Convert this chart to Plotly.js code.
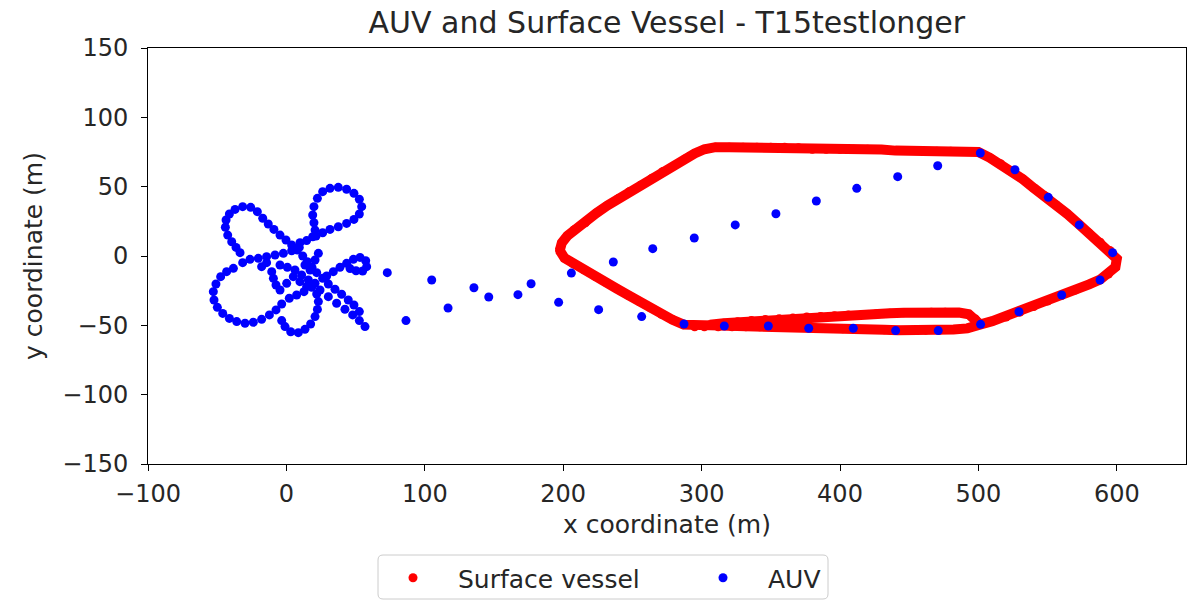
<!DOCTYPE html>
<html>
<head>
<meta charset="utf-8">
<script src="https://cdn.plot.ly/plotly-3.0.1.min.js"></script>
<style>html,body{margin:0;padding:0;background:#fff;}#chart{width:1193px;height:601px;}</style>
</head>
<body>
<div id="chart"></div>
<script>
// Surface vessel: main loop
const vesselX = [197.5,199,203,208,216,224,232,240,248,256,264,272,280,288,295,302,310,320,330,340,350,360,370,380,390,400,410,420,430,440,450,460,470,480,490,500,508,516,524,532,540,548,556,564,572,580,588,595,600,599,594,588,580,570,560,550,540,530,520,510,501,492,482,472,462,452,442,432,422,412,402,392,382,372,362,352,342,332,322,312,302,295,287,279,271,263,255,247,239,231,223,215,207,201,197.5];
const vesselY = [4,9.5,14.5,19,24,31,36.5,41.5,46.5,51,56,61,65,70,74,77,78.5,78.5,78.5,78.5,78.5,78.5,78,77,77,77,77,77,76.8,76,76,75.5,75.5,75.5,75.3,75,71,66.5,61.5,55.5,49,43.5,37,30.5,23.5,16.5,10,4,-2,-8,-13,-17,-20.5,-24.5,-28.5,-32.5,-36.5,-40.5,-44,-47,-49.5,-52.2,-53,-53.5,-53.5,-53.5,-53.5,-53.2,-53,-52.8,-52.5,-52.2,-52,-51.5,-51.5,-51,-51,-51,-51,-51,-51,-51,-49.5,-46,-42,-37.4,-32.8,-28.3,-23.7,-19.1,-14.6,-10,-5.5,-1.5,4];
// Surface vessel: second (inner) pass along the bottom
const vesselX2 = [501,498,493,486,476,466,456,446,436,426,416,406,396,386,376,366,356,346,336,326,316,306];
const vesselY2 = [-49,-45.5,-42,-40.8,-40.5,-40.5,-40.8,-41,-41.3,-41.8,-42.2,-42.6,-43,-43.6,-44,-44.8,-45.3,-45.8,-46.5,-47.5,-48.5,-49.5];

// AUV positions
const auvX = [-33.5,-36.4,-39.5,-42.4,-44.1,-43.6,-41.2,-37.1,-31.6,-25.8,-21.0,-17.1,-13.1,-9.0,-4.6,-0.3,3.8,7.9,11.8,15.1,18.5,21.9,
  26.2,30.3,35.1,39.9,44.7,48.8,52.7,
  24.3,30.3,36.3,42.3,47.9,52.7,56.8,
  9.8,14.6,19.0,20.7,19.9,19.0,19.9,22.4,26.2,31.5,37.5,43.5,48.8,52.7,54.4,52.7,48.8,43.5,37.5,31.5,26.2,21.4,
  9.3,3.8,-2.2,-8.2,-14.3,-20.3,-26.3,-31.6,
  -38.3,-43.2,-47.5,-50.9,-52.8,-52.3,-49.9,-46.0,-41.2,-35.9,-29.9,-23.9,-17.9,-12.3,-7.5,-3.4,
  2.1,7.4,12.7,18.3,
  21.9,23.1,22.4,20.7,17.5,13.4,8.6,3.1,-1.0,-3.4,
  29.1,33.9,38.7,43.5,48.4,53.2,57.3,58.0,55.1,50.3,46.0,
  -10.6,-9.4,-7.5,-4.6,0.7,6.2,11.0,15.9,20.7,9.8,14.6,5.0,0.2,-4.6,17.1,13.4,20.7,23.1,-17.9,-14.3,
  72.9,86.4,105,116.8,135.5,146.2,167.3,176.8,196.7,205.9,225.6,236.2,264.7,294.7,324.3,353.7,382.9,412.1,441.7,470.6,501.4,
  526.4,550.5,572.9,597,587.9,560.2,529.3,501.6,471,440.2,409.6,377.4,348.2,316.4,287.3,256.7];
const auvY = [2.4,6.2,10.3,15.1,20.7,26.0,30.3,33.6,35.6,35.1,32.0,27.2,23.1,19.2,15.1,11.5,7.9,4.3,0,-4.1,-8.2,-12.0,
  -16.1,-20.2,-24.0,-27.6,-31.7,-35.3,-40.1,
  -24.5,-29.3,-34.1,-38.4,-42.5,-46.6,-50.9,
  9.6,11.1,13.9,18.7,24.0,29.6,35.6,41.6,46.4,48.8,49.5,48.1,45.2,40.9,35.6,30.3,26.4,23.5,21.1,19.2,16.8,14.4,
  6.2,3.8,1.9,0.7,-0.5,-1.7,-2.4,-4.8,
  -8.9,-11.3,-14.9,-20.2,-25.7,-31.7,-37.0,-41.4,-45.0,-47.3,-48.5,-47.8,-45.7,-42.5,-38.9,-34.6,
  -30.5,-28.1,-25.7,-22.6,
  -27.4,-32.9,-38.5,-43.7,-49.0,-52.9,-55.3,-54.6,-50.9,-46.6,
  -14.4,-11.3,-8.2,-5.3,-2.4,-1.0,-3.4,-7.7,-10.8,-10.6,-9.1,
  -11.3,-16.1,-20.9,-6.5,-8.2,-10.1,-13.7,-17.3,-19.7,-18.5,-22.1,-14.9,-19.7,-24.5,-10.1,-6.5,-2.9,1.9,-7.7,-4.8,
  -12.0,-46.6,-17.3,-37.5,-22.9,-29.6,-27.9,-20.0,-33.4,-12.3,-38.7,-4.3,5.3,13.0,22.4,30.5,39.7,48.8,57.2,65.1,74.3,
  62.2,42.3,22.4,2.4,-17.3,-28.1,-40.2,-49.3,-53.8,-53.8,-52.1,-52.1,-50.5,-50.5,-49.0,-43.7];

const xTicks = [-100,0,100,200,300,400,500,600];
const yTicks = [-150,-100,-50,0,50,100,150];

const RED = '#ff0000', BLUE = '#0000ff';
const FONT = 'DejaVu Sans, sans-serif';
const TXT = '#262626';

const traces = [
  {x: vesselX, y: vesselY, mode: 'lines', line: {color: RED, width: 10}, showlegend: false, hoverinfo: 'skip'},
  {x: vesselX2, y: vesselY2, mode: 'lines', line: {color: RED, width: 10}, showlegend: false, hoverinfo: 'skip'},
  {x: vesselX.concat(vesselX2), y: vesselY.concat(vesselY2), mode: 'markers', type: 'scatter', name: 'Surface vessel',
   marker: {color: RED, size: 9}, legend: 'legend'},
  {x: auvX, y: auvY, mode: 'markers', type: 'scatter', name: 'AUV', marker: {color: BLUE, size: 9}, legend: 'legend2'}
];

const axisCommon = {
  showgrid: false, zeroline: false, showline: true, mirror: true,
  linecolor: '#000', linewidth: 1, ticks: 'outside', ticklen: 6, tickcolor: '#000', tickwidth: 1,
  tickfont: {family: FONT, size: 24, color: TXT}
};

// plot area in pixels (for the legend frame decoration)
const PL = 148, PT = 48, PW = 1038, PH = 416;
const px2paperX = p => (p - PL) / PW;
const py2paperY = p => (PT + PH - p) / PH;
function roundRect(x0, y0, x1, y1, r) {
  const X = px2paperX, Y = py2paperY;
  return `M${X(x0 + r)},${Y(y0)} L${X(x1 - r)},${Y(y0)} Q${X(x1)},${Y(y0)} ${X(x1)},${Y(y0 + r)} ` +
         `L${X(x1)},${Y(y1 - r)} Q${X(x1)},${Y(y1)} ${X(x1 - r)},${Y(y1)} L${X(x0 + r)},${Y(y1)} ` +
         `Q${X(x0)},${Y(y1)} ${X(x0)},${Y(y1 - r)} L${X(x0)},${Y(y0 + r)} Q${X(x0)},${Y(y0)} ${X(x0 + r)},${Y(y0)} Z`;
}

const legendCommon = {orientation: 'h', xref: 'container', yref: 'container', xanchor: 'left', y: 1 - 578 / 601, yanchor: 'middle',
  borderwidth: 0, bgcolor: 'rgba(0,0,0,0)', itemwidth: 80, font: {family: FONT, size: 25, color: TXT}};

const layout = {
  width: 1193, height: 601,
  margin: {l: PL, r: 1193 - PL - PW, t: PT, b: 601 - PT - PH},
  paper_bgcolor: '#fff', plot_bgcolor: '#fff',
  font: {family: FONT, color: TXT},
  title: {text: 'AUV and Surface Vessel - T15testlonger', font: {family: FONT, size: 30, color: TXT},
          x: 0.559, xanchor: 'center', xref: 'container', y: 0.963, yanchor: 'middle', yref: 'container'},
  xaxis: Object.assign({}, axisCommon, {range: [-100, 650], tickvals: xTicks, ticklabelstandoff: 2,
          title: {text: 'x coordinate (m)', font: {family: FONT, size: 25, color: TXT}, standoff: 8}}),
  yaxis: Object.assign({}, axisCommon, {range: [-150, 150], tickvals: yTicks, ticklabelstandoff: 8,
          title: {text: 'y coordinate (m)', font: {family: FONT, size: 25, color: TXT}, standoff: 12}}),
  showlegend: true,
  legend: Object.assign({}, legendCommon, {x: 368 / 1193}),
  legend2: Object.assign({}, legendCommon, {x: 678 / 1193}),
  shapes: [{type: 'path', xref: 'paper', yref: 'paper', path: roundRect(378, 555, 828, 599, 5),
            line: {color: '#cccccc', width: 1}, fillcolor: 'rgba(255,255,255,0)', layer: 'above'}]
};

Plotly.newPlot('chart', traces, layout, {displayModeBar: false, staticPlot: true});
</script>
</body>
</html>
